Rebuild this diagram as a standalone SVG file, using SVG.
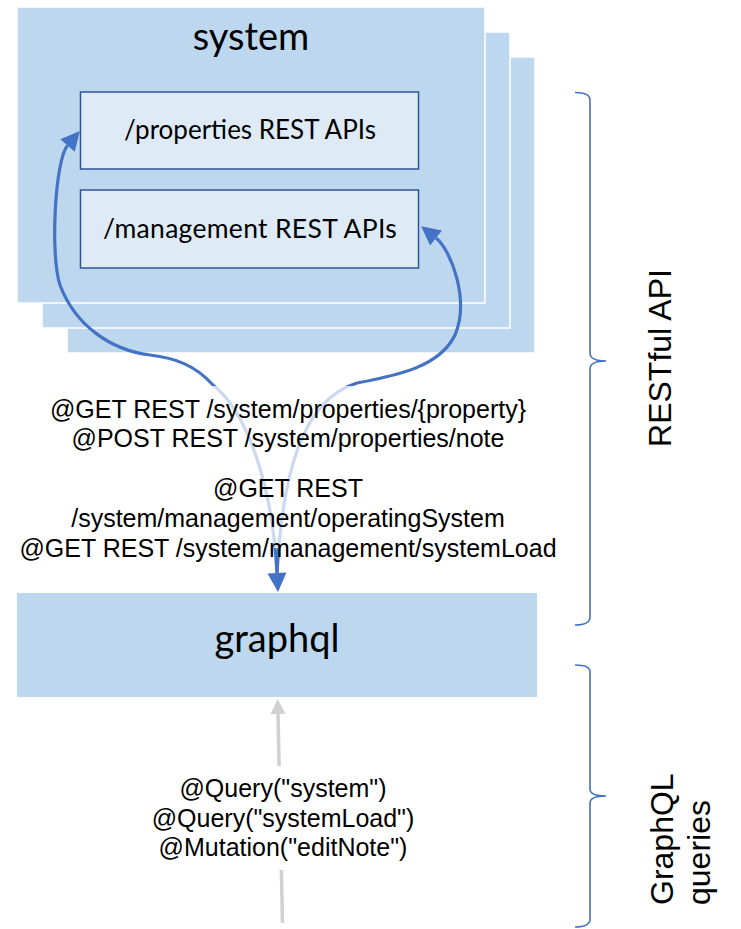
<svg xmlns="http://www.w3.org/2000/svg" width="741" height="929" viewBox="0 0 741 929">
<style>
.stack{fill:#BDD7EE;stroke:#FFFFFF;stroke-width:1.5}
.api{fill:#DEEBF7;stroke:#2F5597;stroke-width:1.5}
.title{font-family:Lato,"Open Sans",sans-serif;fill:#000;text-anchor:middle}
.lbl{font-family:"Liberation Sans",Arial,sans-serif;font-size:25px;fill:#000;text-anchor:middle}
.side{font-family:"Liberation Sans",Arial,sans-serif;font-size:32px;fill:#000}
.blue{fill:none;stroke:#4472C4;stroke-width:3.2}
.brace{fill:none;stroke:#4472C4;stroke-width:1.6}
</style>
<defs>
<marker id="ah" viewBox="-1 -11 22 22" refX="0" refY="0" markerWidth="22" markerHeight="22" markerUnits="userSpaceOnUse" orient="auto">
<path d="M0,-9.5 L19,0 L0,9.5 z" fill="#4472C4"/>
</marker>
<marker id="ahs" viewBox="-1 -11 22 22" refX="0" refY="0" markerWidth="22" markerHeight="22" markerUnits="userSpaceOnUse" orient="auto-start-reverse">
<path d="M0,-9.5 L19,0 L0,9.5 z" fill="#4472C4"/>
</marker>
<marker id="gh" viewBox="-1 -9 18 18" refX="0" refY="0" markerWidth="18" markerHeight="18" markerUnits="userSpaceOnUse" orient="auto">
<path d="M0,-7.5 L15,0 L0,7.5 z" fill="#D0D0D0"/>
</marker>
</defs>

<g id="system">
<rect class="stack" x="67" y="57" width="468" height="296"/>
<rect class="stack" x="42" y="32" width="468" height="296"/>
<rect class="stack" x="17" y="7" width="468" height="296"/>
<text class="title" x="251" y="50" font-size="38">system</text>
</g>

<g id="properties-api">
<rect class="api" x="80.5" y="92" width="338" height="77"/>
<text class="title" x="250" y="139" font-size="26">/properties REST APIs</text>
</g>

<g id="management-api">
<rect class="api" x="80.5" y="190" width="338" height="78"/>
<text class="title" x="250" y="238" font-size="26.5" letter-spacing="0.3">/management REST APIs</text>
</g>

<g id="connectors">
<path class="blue" d="M277,573 C272,480 245,410 213,385 C195,365 175,358 150,355 C110,350 75,325 60,285 C50,255 55,160 67.5,145.5" marker-start="url(#ahs)" marker-end="url(#ah)"/>
<path class="blue" d="M277,573 C282,480 300,400 357,383 C400,375 440,366 455,335 C470,300 451,250 436,238" marker-end="url(#ah)"/>
<line x1="282.5" y1="923" x2="278" y2="714" stroke="#D0D0D0" stroke-width="3.5" marker-end="url(#gh)"/>
</g>

<g id="rest-labels">
<rect x="15" y="386" width="548" height="162" fill="#FFFFFF" fill-opacity="0.72"/>
<text class="lbl" x="288" y="418">@GET REST /system/properties/{property}</text>
<text class="lbl" x="288" y="447">@POST REST /system/properties/note</text>
<text class="lbl" x="288" y="497">@GET REST</text>
<text class="lbl" x="288" y="527">/system/management/operatingSystem</text>
<text class="lbl" x="288" y="557">@GET REST /system/management/systemLoad</text>
</g>

<g id="graphql">
<rect x="17" y="593" width="520" height="104" fill="#BDD7EE"/>
<text class="title" x="277" y="652" font-size="38">graphql</text>
</g>

<g id="graphql-labels">
<rect x="150" y="766" width="270" height="104" fill="#FFFFFF"/>
<text class="lbl" x="283" y="797">@Query("system")</text>
<text class="lbl" x="283" y="827">@Query("systemLoad")</text>
<text class="lbl" x="283" y="856">@Mutation("editNote")</text>
</g>

<g id="restful-brace">
<path class="brace" d="M575,92.5 Q590,92.5 590,100 L590,353 Q590,361 606,361 Q590,361 590,369 L590,617 Q590,625 575,625"/>
<text class="side" text-anchor="middle" transform="translate(671,358) rotate(-90)">RESTful API</text>
</g>

<g id="graphql-brace">
<path class="brace" d="M575,665 Q590,665 590,672 L590,789 Q590,796 606,796 Q590,796 590,803 L590,919 Q590,927 575,927"/>
<text class="side" transform="translate(673,905) rotate(-90)">GraphQL</text>
<text class="side" transform="translate(710,905) rotate(-90)">queries</text>
</g>
</svg>
